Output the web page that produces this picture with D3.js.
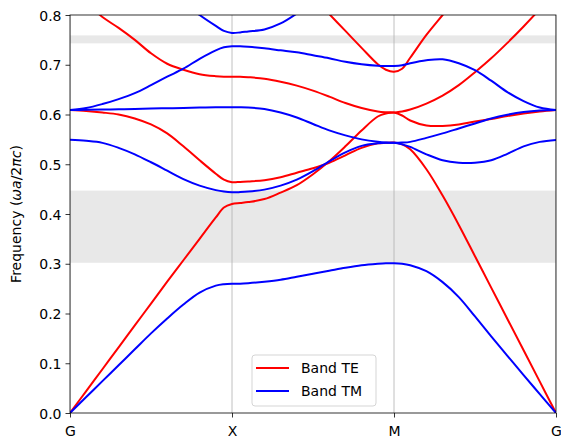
<!DOCTYPE html>
<html lang="en">
  <head>
    <meta charset="utf-8" />
    <title>Band structure</title>
    <style>
      body { margin: 0; background: #fff; }
      svg text { font-family: "DejaVu Sans", sans-serif; fill: #000; }
    </style>
  </head>
  <body>
    <svg id="viz"></svg>
    <script src="https://d3js.org/d3.v7.min.js"></script>
    <script>
        // k path position: G=0, X=1, M=2, G=3
        var kGrid = [0, 0.1, 0.2, 0.3, 0.4, 0.5, 0.6, 0.7, 0.8, 0.9, 0.95, 1, 1.05, 1.1, 1.2, 1.3, 1.4, 1.5, 1.6, 1.7, 1.8, 1.9, 1.95, 2, 2.05, 2.1, 2.2, 2.3, 2.4, 2.5, 2.6, 2.7, 2.8, 2.9, 3];
        var kTicks = [0, 1, 2, 3];
        var kLabels = ["G", "X", "M", "G"];
        var freqTicks = [0, 0.1, 0.2, 0.3, 0.4, 0.5, 0.6, 0.7, 0.8];

        // TE bands
        var te1 = [0, 0.044, 0.088, 0.132, 0.176, 0.22, 0.264, 0.307, 0.35, 0.393, 0.413, 0.42, 0.422, 0.424, 0.43, 0.443, 0.458, 0.48, 0.506, 0.536, 0.568, 0.596, 0.602, 0.604, 0.606, 0.61, 0.622, 0.638, 0.659, 0.685, 0.713, 0.744, 0.777, 0.812, 0.85];
        var te2 = [0.609, 0.607, 0.604, 0.6, 0.592, 0.58, 0.562, 0.536, 0.508, 0.481, 0.469, 0.464, 0.4645, 0.4655, 0.468, 0.474, 0.483, 0.492, 0.503, 0.518, 0.533, 0.542, 0.543, 0.5435, 0.54, 0.53, 0.49, 0.437, 0.378, 0.315, 0.252, 0.189, 0.126, 0.063, 0];
        var te3 = [0.85, 0.825, 0.796, 0.774, 0.75, 0.723, 0.702, 0.69, 0.681, 0.677, 0.676, 0.676, 0.676, 0.675, 0.672, 0.666, 0.658, 0.648, 0.636, 0.623, 0.613, 0.606, 0.6045, 0.604, 0.598, 0.588, 0.578, 0.577, 0.58, 0.586, 0.591, 0.597, 0.602, 0.606, 0.609];
        var te4 = [1.0, 0.995, 0.99, 0.98, 0.97, 0.96, 0.95, 0.94, 0.93, 0.925, 0.922, 0.92, 0.92, 0.918, 0.91, 0.895, 0.87, 0.836, 0.802, 0.768, 0.734, 0.701, 0.69, 0.686, 0.692, 0.714, 0.76, 0.8, 0.84, 0.875, 0.9, 0.92, 0.93, 0.935, 0.94];

        // TM bands
        var tm1 = [0, 0.032, 0.064, 0.096, 0.128, 0.16, 0.19, 0.218, 0.242, 0.256, 0.259, 0.26, 0.26, 0.261, 0.264, 0.268, 0.274, 0.28, 0.286, 0.292, 0.297, 0.3, 0.301, 0.301, 0.3, 0.297, 0.285, 0.263, 0.233, 0.194, 0.154, 0.115, 0.076, 0.038, 0];
        var tm2 = [0.549, 0.547, 0.543, 0.533, 0.52, 0.504, 0.487, 0.47, 0.457, 0.448, 0.445, 0.4436, 0.444, 0.445, 0.449, 0.457, 0.469, 0.486, 0.506, 0.524, 0.537, 0.542, 0.543, 0.543, 0.54, 0.535, 0.52, 0.508, 0.503, 0.503, 0.508, 0.521, 0.536, 0.545, 0.549];
        var tm3 = [0.609, 0.6095, 0.61, 0.6105, 0.611, 0.612, 0.6125, 0.613, 0.614, 0.6145, 0.6145, 0.6145, 0.6145, 0.614, 0.611, 0.604, 0.594, 0.581, 0.568, 0.558, 0.55, 0.545, 0.5435, 0.543, 0.5435, 0.545, 0.553, 0.562, 0.572, 0.582, 0.592, 0.5995, 0.605, 0.608, 0.609];
        var tm4 = [0.609, 0.613, 0.621, 0.631, 0.643, 0.659, 0.676, 0.692, 0.712, 0.729, 0.735, 0.737, 0.737, 0.736, 0.733, 0.729, 0.725, 0.719, 0.713, 0.706, 0.701, 0.698, 0.6975, 0.6975, 0.699, 0.703, 0.709, 0.711, 0.703, 0.689, 0.668, 0.645, 0.627, 0.614, 0.609];
        var tm5 = [0.95, 0.94, 0.93, 0.91, 0.89, 0.87, 0.85, 0.826, 0.8, 0.778, 0.768, 0.764, 0.765, 0.767, 0.771, 0.783, 0.803, 0.828, 0.85, 0.868, 0.88, 0.885, 0.886, 0.886, 0.886, 0.885, 0.88, 0.875, 0.87, 0.865, 0.86, 0.86, 0.86, 0.86, 0.86];

        var teBands = [te1, te2, te3, te4];
        var tmBands = [tm1, tm2, tm3, tm4, tm5];

        // photonic band gaps (shaded)
        var gaps = [[0.302, 0.447], [0.743, 0.759]];

        var width = 561, height = 438;
        var margin = {left: 70, right: 5, top: 15, bottom: 25};
        var fontSize = 14;

        var svg = d3.select("#viz")
            .attr("width", width)
            .attr("height", height);

        var x = d3.scaleLinear().domain([0, 3]).range([margin.left, width - margin.right]);
        var y = d3.scaleLinear().domain([0, 0.8]).range([height - margin.bottom, margin.top]);

        svg.append("defs").append("clipPath")
            .attr("id", "plotclip")
            .append("rect")
            .attr("x", x(0)).attr("y", y(0.8))
            .attr("width", x(3) - x(0)).attr("height", y(0) - y(0.8));

        var plot = svg.append("g").attr("clip-path", "url(#plotclip)");

        // gap shading
        plot.selectAll("rect.gap")
            .data(gaps)
            .enter()
            .append("rect")
            .attr("class", "gap")
            .attr("x", x(0))
            .attr("width", x(3) - x(0))
            .attr("y", function(d) { return y(d[1]); })
            .attr("height", function(d) { return y(d[0]) - y(d[1]); })
            .attr("fill", "#e8e8e8");

        // vertical grid at the k points
        plot.selectAll("line.grid")
            .data(kTicks)
            .enter()
            .append("line")
            .attr("x1", function(d) { return x(d); })
            .attr("x2", function(d) { return x(d); })
            .attr("y1", y(0)).attr("y2", y(0.8))
            .attr("stroke", "#b0b0b0")
            .attr("stroke-width", 0.8);

        var line = d3.line()
            .x(function(d, i) { return x(kGrid[i]); })
            .y(function(d) { return y(d); })
            .curve(d3.curveCatmullRom.alpha(0.5));

        plot.selectAll("path.te")
            .data(teBands)
            .enter()
            .append("path")
            .attr("class", "te")
            .attr("d", line)
            .attr("fill", "none")
            .attr("stroke", "#ff0000")
            .attr("stroke-width", 2);

        plot.selectAll("path.tm")
            .data(tmBands)
            .enter()
            .append("path")
            .attr("class", "tm")
            .attr("d", line)
            .attr("fill", "none")
            .attr("stroke", "#0000ff")
            .attr("stroke-width", 2);

        // axes
        var yAxis = d3.axisLeft(y)
            .tickValues(freqTicks)
            .tickFormat(d3.format(".1f"))
            .tickSize(4.5)
            .tickPadding(4);

        var xAxis = d3.axisBottom(x)
            .tickValues(kTicks)
            .tickFormat(function(d, i) { return kLabels[i]; })
            .tickSize(4.5)
            .tickPadding(4);

        var gy = svg.append("g")
            .attr("transform", "translate(" + x(0) + ",0)")
            .call(yAxis);
        gy.select(".domain").remove();
        gy.selectAll("text").attr("font-size", fontSize).attr("dy", "0.36em").attr("font-family", "DejaVu Sans");
        gy.selectAll("line").attr("stroke", "#000").attr("stroke-width", 0.8);

        var gx = svg.append("g")
            .attr("transform", "translate(0," + y(0) + ")")
            .call(xAxis);
        gx.select(".domain").remove();
        gx.selectAll("text").attr("font-size", fontSize).attr("font-family", "DejaVu Sans")
            .attr("y", 23).attr("dy", 0);
        gx.selectAll("line").attr("stroke", "#000").attr("stroke-width", 0.8);

        // frame
        svg.append("rect")
            .attr("x", x(0)).attr("y", y(0.8))
            .attr("width", x(3) - x(0)).attr("height", y(0) - y(0.8))
            .attr("fill", "none")
            .attr("stroke", "#000")
            .attr("stroke-width", 0.8);

        // y label
        var ylab = svg.append("text")
            .attr("transform", "translate(21," + ((y(0) + y(0.8)) / 2) + ") rotate(-90)")
            .attr("text-anchor", "middle")
            .attr("font-size", fontSize);
        ylab.append("tspan").text("Frequency (");
        ylab.append("tspan").attr("font-style", "italic").text("ωa");
        ylab.append("tspan").text("/2");
        ylab.append("tspan").attr("font-style", "italic").text("πc");
        ylab.append("tspan").text(")");

        // legend
        var legendItems = [{label: "Band TE", color: "#ff0000"}, {label: "Band TM", color: "#0000ff"}];
        var lg = svg.append("g").attr("transform", "translate(252,355)");
        lg.append("rect")
            .attr("x", 0).attr("y", 0)
            .attr("width", 124).attr("height", 51)
            .attr("rx", 3)
            .attr("fill", "#fff").attr("fill-opacity", 0.8)
            .attr("stroke", "#d5d5d5").attr("stroke-width", 1);
        var li = lg.selectAll("g.item")
            .data(legendItems)
            .enter()
            .append("g")
            .attr("transform", function(d, i) { return "translate(0," + (13 + i * 23) + ")"; });
        li.append("line")
            .attr("x1", 4).attr("x2", 37)
            .attr("stroke", function(d) { return d.color; })
            .attr("stroke-width", 2);
        li.append("text")
            .attr("x", 49).attr("dy", "0.36em")
            .attr("font-size", fontSize)
            .text(function(d) { return d.label; });
    </script>
  </body>
</html>
